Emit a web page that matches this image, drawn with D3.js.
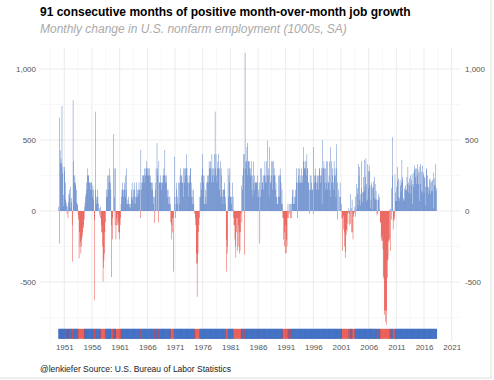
<!DOCTYPE html>
<html>
<head>
<meta charset="utf-8">
<script src="https://cdn.jsdelivr.net/npm/d3@7"></script>
<style>
  body { margin: 0; background: #fff; }
  text { font-family: "Liberation Sans", Arial, sans-serif; }
</style>
</head>
<body>
<script>
// monthly change in nonfarm payrolls (1000s), one row per year, starting Jan 1950
var jobs1950s = [
   30, -229,  657,  428,  336,  365,  335,  740,  265,  314,   36,  112,
  310,  280,  200,   80,   60,   40,  -20,   30,  -50,   60,  120,  150,
  100,  170,   20,   90,   60, -100, -357,  780,  350,  250,  200,  250,
  200,  180,  150,   60,   40,   50,  -30,  -60, -333, -150, -250, -220,
 -300, -200, -250, -180, -150, -100, -120,  -60,   30,   60,  100,  120,
  200,  150,  250,  300,  250,  250,  200,  200,  200,  150,  200,  200,
  150,  100,  180,  150,   80,  -60, -627,  700,  150,  100,   50,   80,
  150,  100,   50,    0,  -30,   20,   30,  -50, -100, -150, -150, -250,
 -498, -400, -350, -300, -150,  -80,    0,  100,  150,  100,  250,  150,
  250,  200,  300,  250,  200,  150, -465, -100,  -50, -200,    0,  542
];
var jobs1960s = [
  300,  100, -100,  300, -200, -100,  -50,  -20, -100,  -80, -150, -200,
 -150, -100,  -50,   50,  100,  150,  200,  150,  100,  150,  200,  150,
  100,  250,  150,  300,   50,   50,   80,  100,   50,   50,   30,   20,
   50,  100,  150,  200,   80,  100,  150,   50,  200,  150,   50,  100,
  100,  200,  150,  100,  120,  150,  200,  150,  150,  -50,  430,  200,
  150,  250,  200,  250,  250,  200,  300,  250,  250,  300,  300,  350,
  300,  250,  300,  250,  250,  300,  200,  250,  200,  200,  150,  200,
  150,  100,   50,  -85,  100,  200,  150,  300,    0,  478,  300,  250,
  -80,  350,  200,  200,  250,  200,  200,  150,  200,  200,  250,  250,
  300,  250,  430,  200,  250,  250,  200,  150,  100,  150,   50,  100
];
var jobs1970s = [
   50,  100,   50,  -80, -200, -100,  -50, -150,  -50, -427,    0,  382,
  100,  -50,   50,  150,  200,   50,  100,    0,  200,   50,  200,  250,
  300,  200,  250,  250,  200,  200,  100,  300,  200,  300,  250,  300,
  300,  400,  300,  200,  250,  200,  100,  250,  200,  300,  300,  200,
  100,  150,   50,  100,  150,   50,    0,  -20,  -50, -100, -300, -370,
 -604, -370, -300, -150, -100,  -50,  100,  200,  100,  150,  250,  300,
  400,  250,  200,  250,   50,   50,  150,  100,  200,   50,  250,  200,
  200,  250,  350,  300,  300,  350,  300,  200,  400,  250,  300,  300,
  200,  250,  400,  700,  300,  400,  250,  200,  300,  350,  400,  300,
  150,  300,  350,  100,  300,  250,  150,  100,   50,  150,  150,  200
];
var jobs1980s = [
  150,  100,   50, -200, -427, -300, -250,  300,  100,  250,  200,  300,
  100,  100,  100,   50,   10,  200,  100,  -50, -100, -100, -200, -250,
 -330,  -50, -150, -280,  -50, -250, -100, -150, -300, -280, -150,  -20,
  180,  -80,  150,  250,  300,  400,  400, -308, 1114,  300,  350,  350,
  450,  480,  250,  350,  350,  350,  300,  250,  300,  250,  350,  150,
  250,  100,  350,  200,  250,  150,  200,  200,  200,  200,  200,  250,
  100,  150,  100,  200, -228,  100,  300,  150,  300,  200,  200,  250,
  150,  250,  250,  350,  200,  250,  350,  200,  250,  495,  250,  300,
  100,  450,  250,  200,  200,  350,  250,  150,  350,  250,  350,  300,
  250,  250,  150,  200,  100,  100,   50,   50,  250,  100,  250,  100
];
var jobs1990s = [
  300,  250,  200,   50,  150,   50,  -50, -200,  -50, -150, -250, -100,
 -300, -296, -200, -250,  -50,   50,  -50,    0,   50,  -20,  -50,   50,
   50,  -50,  100,  150,  150,   50,   50,  100,   50,  150,  100,  200,
  300,  200,  -49,  300,  250,  200,  300,  200,  200,  250,  200,  300,
  250,  200,  450,  350,  300,  300,  350,  300,  350,  250,  400,  300,
  300,  200,  200,  150,  -20,  250,  150,  250,  200,  150,  150,  150,
  -20,  450,  250,  200,  300,  250,  200,  150,  250,  200,  250,  150,
  250,  300,  300,  250,  200,  250,  300,   50,  500,  300,  300,  350,
  300,  200,  150,  300,  350,  200,  150,  350,  200,  200,  250,  350,
  150,  450,  100,  350,  200,  250,  300,  200,  150,  350,  250,  300
];
var jobs2000s = [
  250,  100,  470,  300,  200,  -60,  150,    0,  100,    0,  200,  100,
    0,   50,  -50, -280,  -50, -130,  -30, -150, -250, -331, -290, -170,
 -130, -140,  -20,  -90,  -10,   20, -100,  -20,  -90,  120,   20, -150,
   80, -150, -200,  -40,  -20,  -10,   30,  -40,  100,  190,   10,  120,
  160,   40,  330,  250,  310,   80,   40,  120,  160,  350,   60,  130,
  130,  240,  140,  360,  170,  240,  370,  190,   70,   80,  330,  160,
  280,  320,  280,  180,   20,   80,  200,  180,  160,   10,  210,  170,
  240,   90,  190,   80,  140,   80,  -30,  -20,   80,   80,  120,  100,
   10,  -80,  -80, -210, -190, -170, -210, -270, -460, -480, -730, -700,
 -780, -700, -800, -700, -350, -470, -340, -210, -220, -200,   10, -280
];
var jobs2010s = [
   15,  -60,  160,  250,  520, -130,  -70,  -40,  -60,  260,  130,   70,
   70,  170,  210,  310,  100,  230,   70,   90,  220,  180,  140,  200,
  360,  220,  240,   70,   90,   80,  160,  150,  180,  140,  150,  240,
  190,  310,  130,  200,  230,  180,  120,  250,  180,  220,  260,   50,
  190,  170,  270,  320,  290,  300,  240,  190,  300,  250,  330,  290,
  190,  270,   70,  310,  330,  190,  280,  140,  130,  320,  250,  270,
  130,  240,  230,  170,   40,  290,  300,  170,  250,  120,  170,  150,
  220,  230,  120,  200,  140,  210,  140,  220,   20,  270,  230,  180,
  180,  330,  140,  160
];
var startYear = 1950;
var yearTicks = [1951, 1956, 1961, 1966, 1971, 1976, 1981, 1986, 1991, 1996, 2001, 2006, 2011, 2016, 2021];
var yearMinor = [1948.5, 1953.5, 1958.5, 1963.5, 1968.5, 1973.5, 1978.5, 1983.5, 1988.5, 1993.5, 1998.5, 2003.5, 2008.5, 2013.5, 2018.5];
var valueTicks = [-500, 0, 500, 1000];
var valueMinor = [-750, -250, 250, 750];
var stripBand = [-830, -900];

var jobs = [].concat(jobs1950s, jobs1960s, jobs1970s, jobs1980s, jobs1990s, jobs2000s, jobs2010s)
  .map(function(v, i) { return { t: startYear + i / 12, v: v }; });

var width = 494,
    height = 380,
    panel = { left: 40, right: 460, top: 48, bottom: 341 };

var blue = "#3d6bbd",
    red = "#e3261c";

var x = d3.scaleLinear().domain([1951, 2021]).range([64.3, 451.7]);
var y = d3.scaleLinear().domain([0, 500]).range([211, 140]);
var step = x(1 / 12) - x(0);
var fmt = function(d) { return d3.format(",")(d).replace("\u2212", "-"); };

var svg = d3.select("body").append("svg")
  .attr("width", width)
  .attr("height", height);

svg.append("rect")
  .attr("width", width).attr("height", height)
  .attr("fill", "#fff");

// grid
var grid = svg.append("g");
grid.selectAll("line.ymin").data(valueMinor).enter().append("line")
  .attr("x1", panel.left).attr("x2", panel.right)
  .attr("y1", function(d) { return y(d); }).attr("y2", function(d) { return y(d); })
  .attr("stroke", "#f4f4f4").attr("stroke-width", 0.6);
grid.selectAll("line.xmin").data(yearMinor).enter().append("line")
  .attr("y1", panel.top).attr("y2", panel.bottom)
  .attr("x1", function(d) { return x(d); }).attr("x2", function(d) { return x(d); })
  .attr("stroke", "#f4f4f4").attr("stroke-width", 0.6);
grid.selectAll("line.ymaj").data(valueTicks).enter().append("line")
  .attr("x1", panel.left).attr("x2", panel.right)
  .attr("y1", function(d) { return y(d); }).attr("y2", function(d) { return y(d); })
  .attr("stroke", "#ebebeb").attr("stroke-width", 1);
grid.selectAll("line.xmaj").data(yearTicks).enter().append("line")
  .attr("y1", panel.top).attr("y2", panel.bottom)
  .attr("x1", function(d) { return x(d); }).attr("x2", function(d) { return x(d); })
  .attr("stroke", "#ebebeb").attr("stroke-width", 1);

// bars
svg.append("g").selectAll("rect")
  .data(jobs)
  .enter().append("rect")
  .attr("x", function(d) { return x(d.t) - step * 0.45; })
  .attr("width", step * 0.9)
  .attr("y", function(d) { return y(Math.max(0, d.v)); })
  .attr("height", function(d) { return Math.abs(y(d.v) - y(0)); })
  .attr("fill", function(d) { return d.v >= 0 ? blue : red; });

// strip of signs: blue first, red on top
var strip = svg.append("g");
strip.selectAll("rect.pos")
  .data(jobs.filter(function(d) { return d.v >= 0; }))
  .enter().append("rect")
  .attr("x", function(d) { return x(d.t) - step / 2 - 0.3; })
  .attr("width", step + 0.6)
  .attr("y", y(stripBand[0]))
  .attr("height", y(stripBand[1]) - y(stripBand[0]))
  .attr("fill", "#4472c4");
strip.selectAll("rect.neg")
  .data(jobs.filter(function(d) { return d.v < 0; }))
  .enter().append("rect")
  .attr("x", function(d) { return x(d.t) - step / 2; })
  .attr("width", step)
  .attr("y", y(stripBand[0]))
  .attr("height", y(stripBand[1]) - y(stripBand[0]))
  .attr("fill", red);

// axes
function styleAxis(g) {
  g.select(".domain").remove();
  g.selectAll("text").attr("fill", "#555").style("font-size", "8px")
    .style("font-family", "'Liberation Sans', Arial, sans-serif");
}
svg.append("g")
  .attr("transform", "translate(" + panel.left + ",0)")
  .call(d3.axisLeft(y).tickValues(valueTicks).tickSize(0).tickPadding(4).tickFormat(fmt))
  .call(styleAxis);
svg.append("g")
  .attr("transform", "translate(" + panel.right + ",0)")
  .call(d3.axisRight(y).tickValues(valueTicks).tickSize(0).tickPadding(5).tickFormat(fmt))
  .call(styleAxis);
svg.append("g")
  .attr("transform", "translate(0," + panel.bottom + ")")
  .call(d3.axisBottom(x).tickValues(yearTicks).tickSize(0).tickPadding(3).tickFormat(d3.format("d")))
  .call(styleAxis);

// titles
svg.append("text")
  .attr("x", 40).attr("y", 16)
  .style("font-size", "12px").style("font-weight", "bold").attr("fill", "#000")
  .text("91 consecutive months of positive month-over-month job growth");
svg.append("text")
  .attr("x", 40).attr("y", 33)
  .style("font-size", "12px").style("font-style", "italic").attr("fill", "#aaaaaa")
  .text("Monthly change in U.S. nonfarm employment (1000s, SA)");
svg.append("text")
  .attr("x", 40).attr("y", 372)
  .style("font-size", "8.5px").attr("fill", "#222")
  .text("@lenkiefer Source: U.S. Bureau of Labor Statistics");

svg.append("rect")
  .attr("x", -1).attr("y", -1).attr("width", 492).attr("height", 379)
  .attr("fill", "none").attr("stroke", "#dddddd");
</script>
</body>
</html>
